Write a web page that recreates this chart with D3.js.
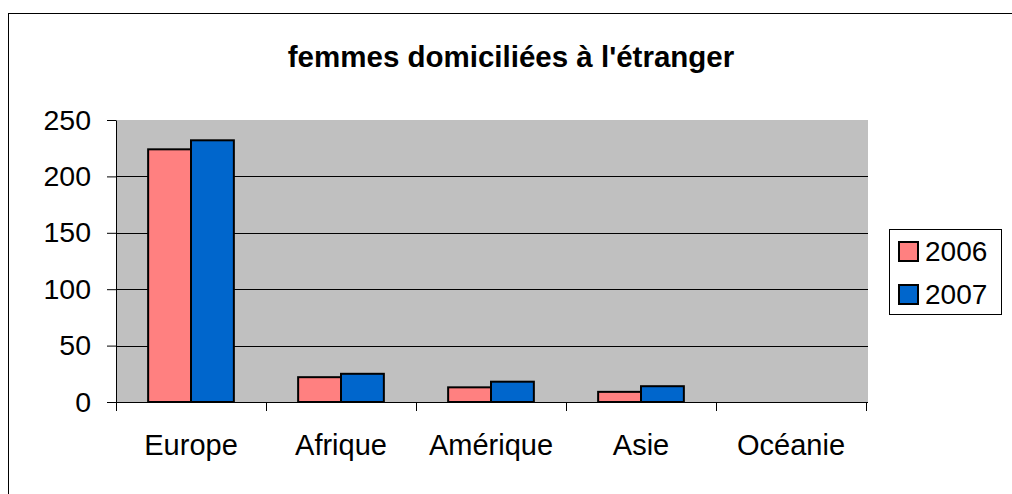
<!DOCTYPE html>
<html>
<head>
<meta charset="utf-8">
<script src="https://cdn.jsdelivr.net/npm/d3@7"></script>
<style>
  html, body { margin: 0; padding: 0; background: #fff; }
  svg { display: block; font-family: Arial, "Liberation Sans", sans-serif; }
</style>
</head>
<body>
<svg width="1012" height="494"></svg>
<script>
let categories = ["Europe", "Afrique", "Amérique", "Asie", "Océanie"]
let series = ["2006", "2007"]
let values2006 = [224, 22, 13, 9, 0]
let values2007 = [232, 25, 18, 14, 0]
let yTicks = [0, 50, 100, 150, 200, 250]
let title = "femmes domiciliées à l'étranger"

let colors = { "2006": "#ff8080", "2007": "#0066cc" }

let width = 1012
let height = 494
let plot = { left: 116, right: 866, top: 120, bottom: 402 }

let svg = d3.select('svg')

// outer frame (only top and left edges show)
svg.append('rect')
    .attr('x', 8.5)
    .attr('y', 13.5)
    .attr('width', width + 20)
    .attr('height', height + 20)
    .attr('fill', '#fff')
    .attr('stroke', '#000')

let yScale = d3.scaleLinear()
    .domain([0, 250])
    .range([plot.bottom, plot.top])

let xScale = d3.scaleBand()
    .domain(categories)
    .range([plot.left, plot.right])

let xInner = d3.scaleBand()
    .domain(series)
    .range([0, xScale.bandwidth()])
    .paddingInner(0)
    .paddingOuter(0.75)

let xTickScale = d3.scaleLinear()
    .domain([0, categories.length])
    .range([plot.left, plot.right])

// plot background
svg.append('rect')
    .attr('x', plot.left)
    .attr('y', plot.top)
    .attr('width', plot.right - plot.left + 2)
    .attr('height', plot.bottom - plot.top)
    .attr('fill', '#c0c0c0')

// gridlines
svg.append('g')
    .selectAll('line')
    .data(yTicks.filter(d => d > 0 && d < 250))
    .enter()
    .append('line')
    .attr('x1', plot.left)
    .attr('x2', plot.right + 2)
    .attr('y1', d => Math.round(yScale(d)) + 0.5)
    .attr('y2', d => Math.round(yScale(d)) + 0.5)
    .attr('stroke', '#000')

// bars
let rows = categories.map((c, i) => ({ cat: c, vals: [
    { s: "2006", v: values2006[i] },
    { s: "2007", v: values2007[i] }
] }))

svg.append('g')
    .selectAll('g')
    .data(rows)
    .enter()
    .append('g')
    .attr('transform', d => 'translate(' + xScale(d.cat) + ',0)')
    .selectAll('rect')
    .data(d => d.vals.filter(e => e.v > 0))
    .enter()
    .append('rect')
    .attr('x', d => xInner(d.s))
    .attr('y', d => yScale(d.v))
    .attr('width', xInner.bandwidth())
    .attr('height', d => yScale(0) - yScale(d.v))
    .attr('fill', d => colors[d.s])
    .attr('stroke', '#000')
    .attr('stroke-width', 2)

// y axis
let yAxis = d3.axisLeft(yScale)
    .tickValues(yTicks)
    .tickSize(9)
    .tickPadding(16)
    .tickSizeOuter(0)

svg.append('g')
    .attr('transform', 'translate(' + plot.left + ',0)')
    .call(yAxis)
    .call(g => g.selectAll('text').attr('font-size', 28.5).attr('fill', '#000').attr('font-family', 'Arial, "Liberation Sans", sans-serif'))
    .call(g => g.selectAll('line, path').attr('stroke', '#000'))

// x axis tick marks
svg.append('g')
    .attr('transform', 'translate(0,' + plot.bottom + ')')
    .call(d3.axisBottom(xTickScale).ticks(categories.length).tickSize(9).tickSizeOuter(0).tickFormat(''))
    .call(g => g.selectAll('line, path').attr('stroke', '#000'))
    .call(g => g.select('.domain').attr('d', 'M' + plot.left + ',0.5H' + (plot.right + 2)))

// x axis labels
svg.append('g')
    .attr('transform', 'translate(0,' + plot.bottom + ')')
    .call(d3.axisBottom(xScale).tickSize(0).tickPadding(32))
    .call(g => g.select('.domain').remove())
    .call(g => g.selectAll('text').attr('font-size', 29).attr('fill', '#000').attr('font-family', 'Arial, "Liberation Sans", sans-serif'))

// title
svg.append('text')
    .attr('x', 511)
    .attr('y', 67)
    .attr('text-anchor', 'middle')
    .attr('font-size', 29.5)
    .attr('font-weight', 'bold')
    .text(title)

// legend
let legend = svg.append('g')
legend.append('rect')
    .attr('x', 889.5)
    .attr('y', 229.5)
    .attr('width', 112)
    .attr('height', 85)
    .attr('fill', '#fff')
    .attr('stroke', '#000')

let legendY = d3.scalePoint()
    .domain(series)
    .range([251, 294])

let items = legend.selectAll('g.item')
    .data(series)
    .enter()
    .append('g')
    .attr('class', 'item')
    .attr('transform', d => 'translate(0,' + legendY(d) + ')')

items.append('rect')
    .attr('x', 899)
    .attr('y', -9)
    .attr('width', 19)
    .attr('height', 19)
    .attr('fill', d => colors[d])
    .attr('stroke', '#000')
    .attr('stroke-width', 2)

items.append('text')
    .attr('x', 925)
    .attr('y', 10)
    .attr('font-size', 28)
    .text(d => d)
</script>
</body>
</html>
